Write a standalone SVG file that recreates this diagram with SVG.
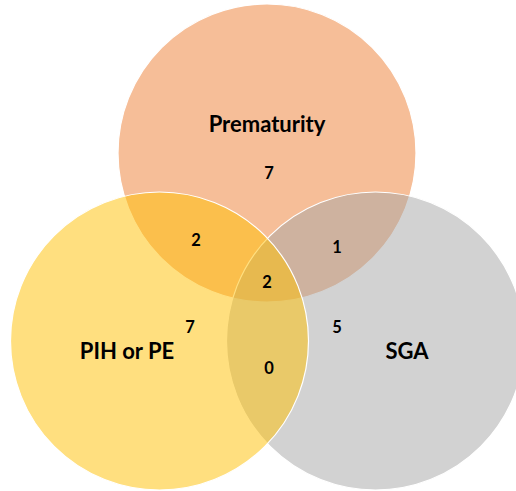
<svg xmlns="http://www.w3.org/2000/svg" width="516" height="491" viewBox="0 0 516 491">
  <style>
    .c { stroke: #FFFFFF; stroke-width: 1.2; fill-opacity: 0.5; }
    .lbl { font-family: Lato, "Open Sans", sans-serif; font-weight: 700; font-size: 22px; fill: #000000; text-anchor: middle; }
    .num { font-family: Lato, "Open Sans", sans-serif; font-weight: 700; font-size: 16.5px; fill: #000000; text-anchor: middle; }
  </style>
  <rect width="516" height="491" fill="#FFFFFF"/>
  <g id="prematurity">
    <circle class="c" cx="267" cy="153" r="149" fill="#ED7D31"/>
  </g>
  <g id="sga">
    <circle class="c" cx="375.5" cy="341" r="149" fill="#A5A5A5"/>
  </g>
  <g id="pih-or-pe">
    <circle class="c" cx="159.5" cy="341" r="149" fill="#FFC000"/>
  </g>
  <g id="labels">
    <text class="lbl" x="267" y="131.5">Prematurity</text>
    <text class="lbl" x="127" y="358.5">PIH or PE</text>
    <text class="lbl" x="407" y="358.5">SGA</text>
    <text class="num" x="269" y="178.5">7</text>
    <text class="num" x="196" y="246">2</text>
    <text class="num" x="190" y="333">7</text>
    <text class="num" x="337" y="253">1</text>
    <text class="num" x="267" y="288">2</text>
    <text class="num" x="337" y="333">5</text>
    <text class="num" x="269" y="374">0</text>
  </g>
</svg>
